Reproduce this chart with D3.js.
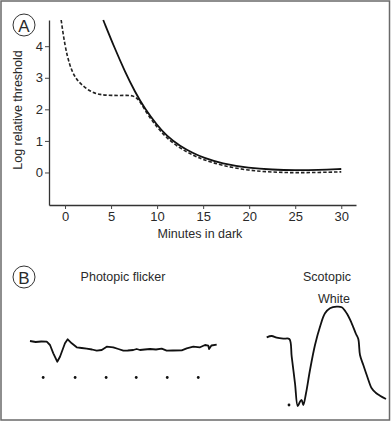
<!DOCTYPE html>
<html>
<head>
<meta charset="utf-8">
<script src="https://cdn.jsdelivr.net/npm/d3@7"></script>
<style>
  html, body { margin: 0; padding: 0; background: #fff; }
  svg { display: block; }
  text { font-family: "Liberation Sans", Arial, Helvetica, sans-serif; fill: #2a2a2a; }
</style>
</head>
<body>
<svg id="chart" width="391" height="422"></svg>
<script>
// ---------- Panel A data: dark adaptation ----------
const xTicks = [0, 5, 10, 15, 20, 25, 30];
const yTicks = [0, 1, 2, 3, 4];
const solidMinutes = [4.15, 5.4, 6.5, 7.6, 8.7, 10, 11, 12.5, 14, 15, 17, 20, 22.5, 25, 27.5, 30];
const solidThreshold = [4.83, 3.93, 3.2, 2.55, 2.0, 1.5, 1.17, 0.83, 0.6, 0.47, 0.28, 0.14, 0.09, 0.07, 0.08, 0.11];
const dashedMinutes = [-0.42, 0, 0.5, 1, 1.6, 2.7, 3.8, 5, 6.5, 7.8, 8.7, 10, 11, 12.5, 14, 15, 17, 20, 22.5, 25, 27.5, 30];
const dashedThreshold = [4.83, 3.98, 3.4, 3.05, 2.83, 2.56, 2.46, 2.44, 2.44, 2.45, 1.94, 1.43, 1.1, 0.76, 0.53, 0.41, 0.22, 0.06, 0.01, -0.01, 0.0, 0.02];

// ---------- Panel B data: ERG traces (ms, µV) ----------
const photopicTime = [0, 6, 12, 17.8, 21.3, 24.8, 29, 31.9, 37.2, 40.1, 44.4, 49.7, 55, 60.3, 66, 71, 76.3, 81.6, 88.6, 94, 99.3, 104, 109.9, 113.5, 117, 122, 127.7, 134, 140.1, 145.4, 152, 161.4, 166.7, 173.7, 180.9, 186.2, 189.7, 190.5, 193, 198.6];
const photopicAmp  = [-2, -4, -3, -3.4, -10, -26.6, -43.4, -33.4, -6.6, 1.4, -6.6, -14.6, -16, -17.4, -19, -21.4, -20, -13.4, -14.6, -18, -21.4, -21, -20, -18, -20, -19, -18, -19, -17.4, -21.4, -21, -20.6, -16.6, -13.4, -14.6, -10, -11.4, -18, -11, -9.4];
const flickerDots = [14, 48, 81, 113, 146, 179];

const scotopicTime = [0, 5, 10, 16.6, 22.6, 25, 28.3, 31, 33.3, 35, 36.6, 39.3, 43.3, 48.3, 53.3, 58.3, 63.3, 70, 75, 80, 85, 89.3, 91.6, 93.3, 96.6, 100.6, 105, 109, 113.3, 119.3];
const scotopicAmp  = [5.4, 8, 4.6, 2.6, 2, -33.4, -86.6, -132, -123.4, -120, -130, -106.6, -60, -10, 26.6, 53.4, 63.4, 66.6, 65.4, 53.4, 33.4, 12, 2, -30, -50, -73.4, -96.6, -105.4, -111.4, -118];
const scotopicDot = [22.3];
const dotAmp = -130;
const photopicDotAmp = -75;

const svg = d3.select("#chart");

// outer frame
svg.append("rect").attr("x", 1).attr("y", 1).attr("width", 388.5).attr("height", 419)
  .attr("fill", "none").attr("stroke", "#6a6a6a").attr("stroke-width", 1.5);

function panelLabel(cx, cy, t) {
  svg.append("circle").attr("cx", cx).attr("cy", cy).attr("r", 11)
    .attr("fill", "none").attr("stroke", "#333").attr("stroke-width", 1);
  svg.append("text").attr("x", cx).attr("y", cy + 1).attr("text-anchor", "middle")
    .attr("dominant-baseline", "central").attr("font-size", 17).text(t);
}

// ---------- Panel A ----------
const x = d3.scaleLinear().domain([-1.74, 31.6]).range([49, 356]);
const y = d3.scaleLinear().domain([-1.03, 4.83]).range([205, 20]);

const gx = svg.append("g").attr("transform", "translate(0,205)")
  .call(d3.axisBottom(x).tickValues(xTicks).tickFormat(d3.format("d")).tickSize(4).tickSizeOuter(0).tickPadding(3));
const gy = svg.append("g").attr("transform", "translate(49,0)")
  .call(d3.axisLeft(y).tickValues(yTicks).tickFormat(d3.format("d")).tickSize(4).tickSizeOuter(0).tickPadding(2));
[gx, gy].forEach(g => {
  g.select(".domain").attr("stroke", "#333").attr("stroke-width", 1.3);
  g.selectAll(".tick line").attr("stroke", "#444").attr("stroke-width", 1);
  g.selectAll(".tick text").attr("font-size", 13).attr("fill", "#333")
    .attr("font-family", "'Liberation Sans', Arial, sans-serif");
});

svg.append("text").attr("x", 200).attr("y", 238).attr("text-anchor", "middle")
  .attr("font-size", 12.5).text("Minutes in dark");
svg.append("text").attr("transform", "translate(22,110) rotate(-90)")
  .attr("text-anchor", "middle").attr("font-size", 12.5).text("Log relative threshold");

const lineA = d3.line().x(d => x(d[0])).y(d => y(d[1])).curve(d3.curveBasis);
svg.append("path").datum(d3.zip(dashedMinutes, dashedThreshold))
  .attr("d", lineA).attr("fill", "none").attr("stroke", "#222")
  .attr("stroke-width", 1.6).attr("stroke-dasharray", "3.5,2");
svg.append("path").datum(d3.zip(solidMinutes, solidThreshold))
  .attr("d", lineA).attr("fill", "none").attr("stroke", "#111").attr("stroke-width", 1.8);

panelLabel(24, 25, "A");

// ---------- Panel B ----------
panelLabel(24, 277, "B");
const yB = d3.scaleLinear().domain([-150, 100]).range([415, 290]);
const xP = d3.scaleLinear().domain([0, 200]).range([30, 218]);
const xS = d3.scaleLinear().domain([0, 120]).range([266.7, 386.7]);

svg.append("text").attr("x", 123).attr("y", 277).attr("text-anchor", "middle")
  .attr("dominant-baseline", "central").attr("font-size", 12.5).text("Photopic flicker");
svg.append("text").attr("x", 327).attr("y", 277).attr("text-anchor", "middle")
  .attr("dominant-baseline", "central").attr("font-size", 12.5).text("Scotopic");
svg.append("text").attr("x", 334).attr("y", 299).attr("text-anchor", "middle")
  .attr("dominant-baseline", "central").attr("font-size", 12.5).text("White");

const lineP = d3.line().x(d => xP(d[0])).y(d => yB(d[1]));
svg.append("path").datum(d3.zip(photopicTime, photopicAmp)).attr("d", lineP)
  .attr("fill", "none").attr("stroke", "#111").attr("stroke-width", 1.8).attr("stroke-linejoin", "round");
svg.selectAll(".pdot").data(flickerDots).enter().append("circle")
  .attr("cx", d => xP(d)).attr("cy", yB(photopicDotAmp)).attr("r", 1.4).attr("fill", "#111");

const lineS = d3.line().x(d => xS(d[0])).y(d => yB(d[1])).curve(d3.curveCatmullRom.alpha(0.5));
svg.append("path").datum(d3.zip(scotopicTime, scotopicAmp)).attr("d", lineS)
  .attr("fill", "none").attr("stroke", "#111").attr("stroke-width", 1.8).attr("stroke-linejoin", "round");
svg.selectAll(".sdot").data(scotopicDot).enter().append("circle")
  .attr("cx", d => xS(d)).attr("cy", yB(dotAmp)).attr("r", 1.4).attr("fill", "#111");
</script>
</body>
</html>
